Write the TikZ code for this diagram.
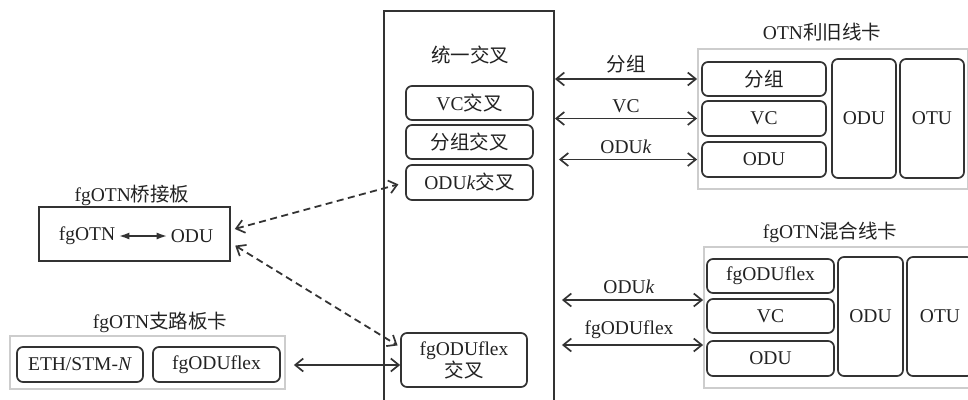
\documentclass[tikz,border=0pt]{standalone}
\usepackage{fontspec}
\setmainfont{Liberation Serif}
\newfontfamily\cjk{Noto Sans CJK SC}
\usepackage{xcolor}
\usetikzlibrary{arrows.meta}

\definecolor{linegray}{HTML}{333333}
\definecolor{cardgray}{HTML}{CDCDCD}
\definecolor{textgray}{HTML}{222222}

\tikzset{
  unitbox/.style={draw=linegray, line width=1.7pt, rounded corners=6pt, inner sep=0pt, align=center, text=textgray},
  cardbox/.style={draw=cardgray, line width=1.8pt, inner sep=0pt},
  crossbox/.style={draw=linegray, line width=1.9pt, inner sep=0pt},
  title/.style={text=textgray, inner sep=0pt},
  barb/.tip={Straight Barb[length=8pt,width=13pt,line width=1.7pt]},
  link/.style={draw=linegray, line width=1.8pt, barb-barb},
  dlink/.style={link, dash pattern=on 7pt off 4.5pt},
  lbl/.style={above=5pt, inner sep=0pt, text=textgray},
}

\begin{document}
\begin{tikzpicture}[x=1pt, y=-1pt, font=\fontsize{19.5}{23}\selectfont]
\useasboundingbox (0,0) rectangle (968,399);

% unified cross-connect
\begin{scope}{
\node[crossbox, minimum width=170pt, minimum height=399pt] (cross) at (469,210.5) {};
\node[title] (crosst) at (470,55) {{\cjk 统一交叉}};

\node[unitbox, minimum width=127pt, minimum height=34pt] (vcx) at (469.5,103) {VC{\cjk 交叉}};
\node[unitbox, minimum width=127pt, minimum height=34pt] (pktx) at (469.5,142) {{\cjk 分组交叉}};
\node[unitbox, minimum width=127pt, minimum height=35pt] (odukx) at (469.5,182.5) {ODU\textit{k}{\cjk 交叉}};
\node[unitbox, minimum width=126pt, minimum height=54pt] (flexx) at (464,360) {fgODUflex\\[-1pt]{\cjk 交叉}};
} \end{scope}

% OTN legacy line card
\begin{scope}{
\node[cardbox, minimum width=270pt, minimum height=140pt] (otn) at (833,119) {};
\node[title] (otnt) at (822,32) {OTN{\cjk 利旧线卡}};

\node[unitbox, minimum width=124pt, minimum height=34pt] (otnpkt) at (764,79) {{\cjk 分组}};
\node[unitbox, minimum width=124pt, minimum height=35pt] (otnvc) at (764,118.5) {VC};
\node[unitbox, minimum width=124pt, minimum height=35pt] (otnodu) at (764,159.5) {ODU};
\node[unitbox, minimum width=64pt, minimum height=119pt] (otnodut) at (864,118.5) {ODU};
\node[unitbox, minimum width=64pt, minimum height=119pt] (otnotu) at (932,118.5) {OTU};
} \end{scope}

% fgOTN hybrid line card
\begin{scope}{
\node[cardbox, minimum width=270pt, minimum height=141pt] (mix) at (839,317.5) {};
\node[title] (mixt) at (830,232) {fgOTN{\cjk 混合线卡}};

\node[unitbox, minimum width=127pt, minimum height=34pt] (mixflex) at (770.5,276) {fgODUflex};
\node[unitbox, minimum width=127pt, minimum height=34pt] (mixvc) at (770.5,316) {VC};
\node[unitbox, minimum width=127pt, minimum height=35pt] (mixodu) at (770.5,358.5) {ODU};
\node[unitbox, minimum width=65pt, minimum height=119pt] (mixodut) at (870.5,316.5) {ODU};
\node[unitbox, minimum width=66pt, minimum height=119pt] (mixotu) at (940,316.5) {OTU};
} \end{scope}

% fgOTN bridge board
\begin{scope}{
\node[crossbox, minimum width=191pt, minimum height=54pt] (bridge) at (134.5,234) {};
\node[title] (bridget) at (132,195) {fgOTN{\cjk 桥接板}};

\node[title, inner sep=2pt] (bfgotn) at (87,236) {fgOTN};
\node[title, inner sep=2pt] (bodu) at (192,236) {ODU};
\draw[linegray, line width=2.2pt, shorten <=1pt, shorten >=1pt, {Latex[length=11pt,width=7pt]}-{Latex[length=11pt,width=7pt]}] (bfgotn.east) -- (bodu.west);
} \end{scope}

% fgOTN tributary card
\begin{scope}{
\node[cardbox, minimum width=275pt, minimum height=53pt] (trib) at (147.5,362.5) {};
\node[title] (tribt) at (160,322) {fgOTN{\cjk 支路板卡}};

\node[unitbox, minimum width=126pt, minimum height=35pt] (tribeth) at (80,364.5) {ETH/STM-\textit{N}};
\node[unitbox, minimum width=127pt, minimum height=35pt] (tribflex) at (216.5,364.5) {fgODUflex};
} \end{scope}

%arrows
{
\coordinate (mixa) at ([yshift=17.5pt]mix.west);
\coordinate (mixb) at ([yshift=-27.5pt]mix.west);

\draw[link] (cross.east |- otnpkt) -- (otn.west |- otnpkt) node[lbl, midway] {{\cjk 分组}};
\draw[link] (cross.east |- otnvc) -- (otn.west |- otnvc) node[lbl, midway] {VC};
\draw[link, shorten <=4pt] (cross.east |- otnodu) -- (otn.west |- otnodu) node[lbl, midway] {ODU\textit{k}};

\draw[link, shorten <=7pt] (cross.east |- mixa) -- (mixa) node[lbl, midway] {ODU\textit{k}};
\draw[link, shorten <=7pt] (cross.east |- mixb) -- (mixb) node[lbl, midway] {fgODUflex};

\draw[dlink, shorten <=4pt, shorten >=7pt] ([yshift=4pt]bridge.east) -- (odukx.west);
\draw[dlink, shorten <=5pt, shorten >=3pt] ([yshift=-9pt]bridge.east) -- ([yshift=13pt]flexx.west);

\draw[link, shorten <=8pt] ([yshift=-2.5pt]trib.east) -- ([yshift=-2.5pt]trib.east -| flexx.west);
}

\end{tikzpicture}
\end{document}
